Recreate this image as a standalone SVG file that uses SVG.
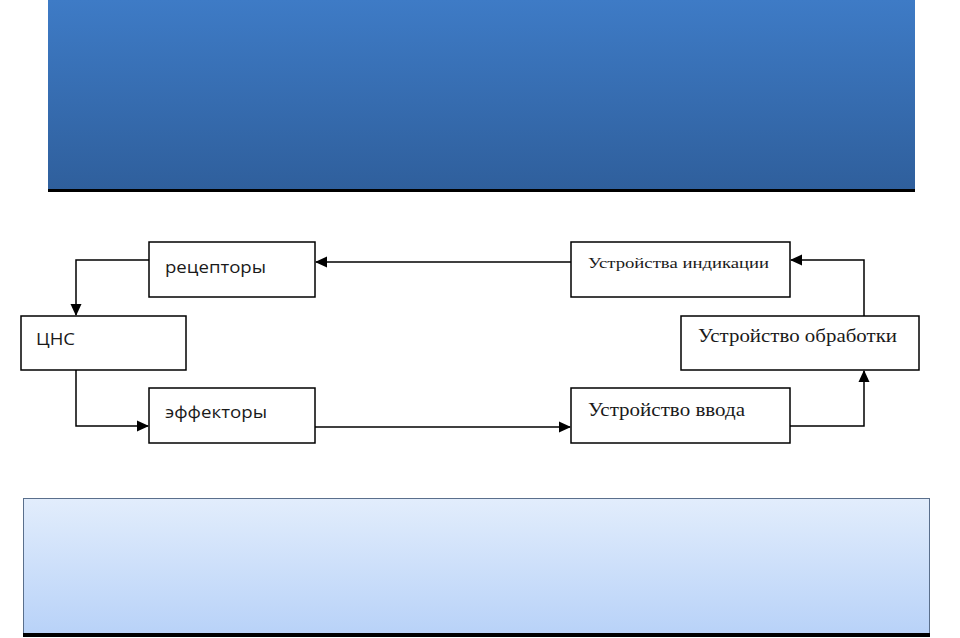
<svg xmlns="http://www.w3.org/2000/svg" width="960" height="638" viewBox="0 0 960 638">
<defs>
<linearGradient id="gTop" x1="0" y1="0" x2="0" y2="1">
<stop offset="0" stop-color="#3e7bc6"/>
<stop offset="1" stop-color="#2f5f9c"/>
</linearGradient>
<linearGradient id="gBot" x1="0" y1="0" x2="0" y2="1">
<stop offset="0" stop-color="#e2edfc"/>
<stop offset="1" stop-color="#b8d2f8"/>
</linearGradient>
<marker id="arr" markerWidth="12" markerHeight="12" refX="11" refY="6" orient="auto" markerUnits="userSpaceOnUse">
<path d="M0,0.5 L12,6 L0,11.5 z" fill="#000"/>
</marker>
<style>
.box{fill:#fff;stroke:#000;stroke-width:1.5}
.sans{font-family:"Open Sans","Liberation Sans",sans-serif;font-size:17px;fill:#1a1a1a}
.serif{font-family:"Liberation Serif","DejaVu Serif",serif;fill:#1a1a1a}
.conn{fill:none;stroke:#000;stroke-width:1.5;marker-end:url(#arr)}
</style>
</defs>
<rect width="960" height="638" fill="#fff"/>
<g id="banner-top">
<rect x="48" y="0" width="867" height="190" fill="url(#gTop)"/>
<rect x="48" y="189" width="867" height="3" fill="#000"/>
</g>
<g id="banner-bottom">
<rect x="23.5" y="498.5" width="906" height="136" fill="url(#gBot)" stroke="#5a6f8c" stroke-width="1"/>
<rect x="23" y="633" width="907" height="4" fill="#000"/>
</g>
<g id="connectors">
<path class="conn" d="M571,262 L316,262"/>
<path class="conn" d="M149,260 L76,260 L76,315"/>
<path class="conn" d="M76,370 L76,426 L148,426"/>
<path class="conn" d="M315,427 L570,427"/>
<path class="conn" d="M790,426 L864,426 L864,371"/>
<path class="conn" d="M864,316 L864,260 L791,260"/>
</g>
<g id="receptors">
<rect class="box" x="149" y="242" width="166" height="55"/>
<text class="sans" x="165" y="273" textLength="101" lengthAdjust="spacingAndGlyphs">рецепторы</text>
</g>
<g id="cns">
<rect class="box" x="21" y="316" width="165" height="54"/>
<text class="sans" x="36" y="345" textLength="39" lengthAdjust="spacingAndGlyphs">ЦНС</text>
</g>
<g id="effectors">
<rect class="box" x="149" y="388" width="166" height="55"/>
<text class="sans" x="165" y="418" textLength="102" lengthAdjust="spacingAndGlyphs">эффекторы</text>
</g>
<g id="indication">
<rect class="box" x="571" y="242" width="219" height="55"/>
<text class="serif" x="588" y="268" font-size="15.5" textLength="181" lengthAdjust="spacingAndGlyphs">Устройства индикации</text>
</g>
<g id="processing">
<rect class="box" x="681" y="316" width="238" height="54"/>
<text class="serif" x="698" y="342" font-size="18" textLength="199" lengthAdjust="spacingAndGlyphs">Устройство обработки</text>
</g>
<g id="input">
<rect class="box" x="571" y="388" width="219" height="55"/>
<text class="serif" x="588" y="416" font-size="18" textLength="157" lengthAdjust="spacingAndGlyphs">Устройство ввода</text>
</g>
</svg>
